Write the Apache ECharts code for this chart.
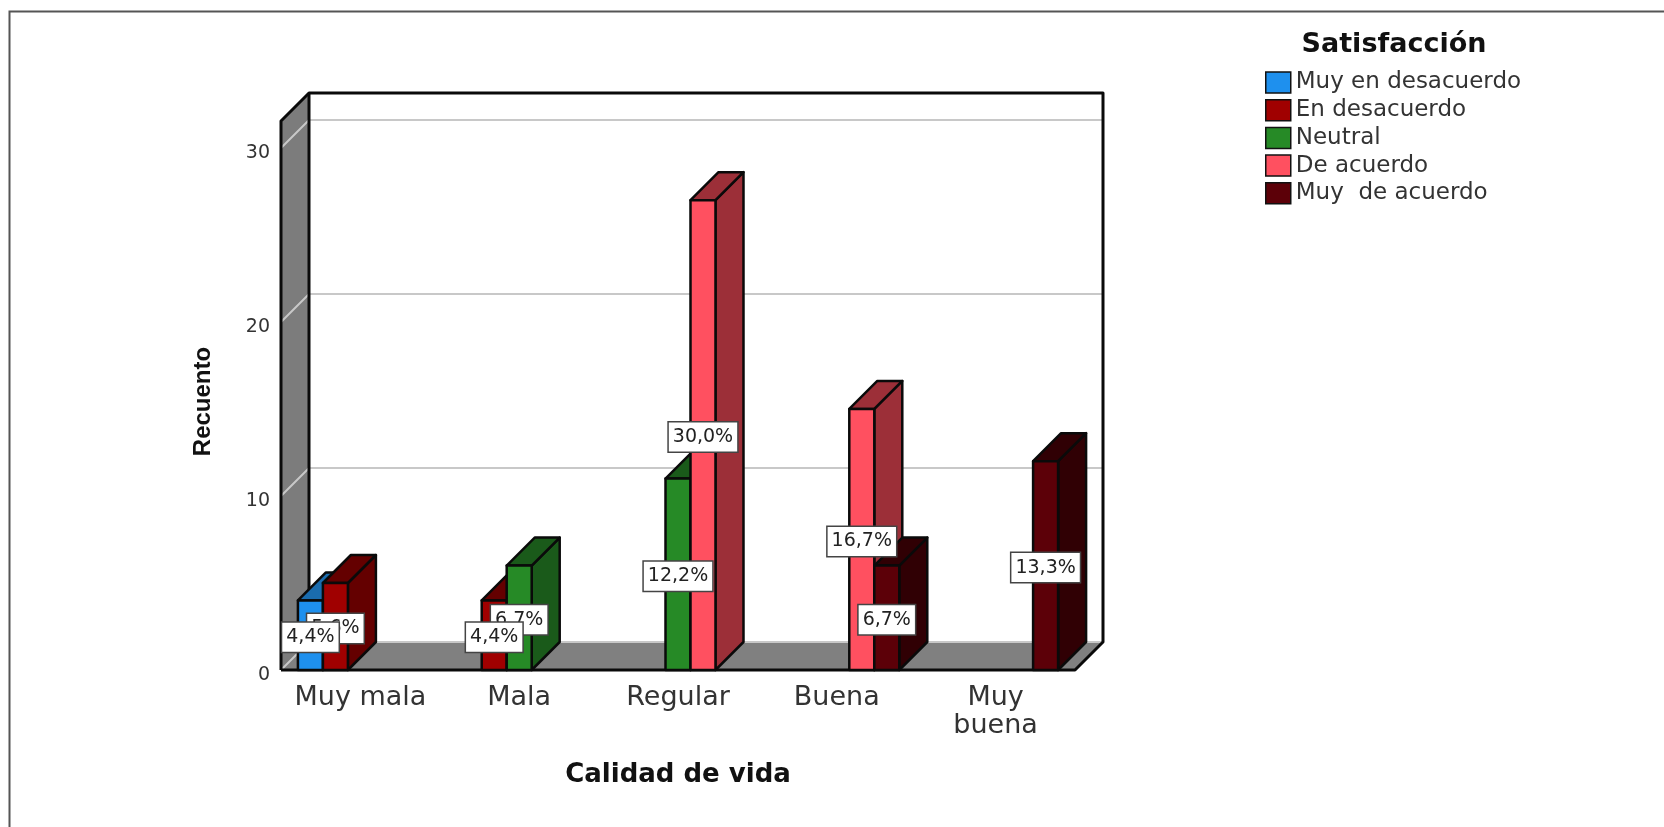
<!DOCTYPE html>
<html>
<head>
<meta charset="utf-8">
<title>Calidad de vida y satisfacción</title>
<script src="https://cdn.jsdelivr.net/npm/echarts@6/dist/echarts.min.js"></script>
<style>
html, body { margin: 0; padding: 0; background: #fff; }
#chart { width: 1664px; height: 827px; }
</style>
</head>
<body>
<div id="chart"></div>
<script>
// Recuento por calidad de vida y nivel de satisfacción
const categories = ['Muy mala', 'Mala', 'Regular', 'Buena', 'Muy\nbuena'];
const seriesNames = ['Muy en desacuerdo', 'En desacuerdo', 'Neutral', 'De acuerdo', 'Muy  de acuerdo'];
const muyEnDesacuerdo = [4, 0, 0, 0, 0];
const enDesacuerdo = [5, 4, 0, 0, 0];
const neutral = [0, 6, 11, 0, 0];
const deAcuerdo = [0, 0, 27, 15, 0];
const muyDeAcuerdo = [0, 0, 0, 6, 12];
const seriesValues = [muyEnDesacuerdo, enDesacuerdo, neutral, deAcuerdo, muyDeAcuerdo];
const yTicks = [0, 10, 20, 30];
const totalCases = 90;

const frontColors = ['#1e90ee', '#a00000', '#268a26', '#ff5060', '#5c0008'];
const sideColors = ['#1a6cae', '#640000', '#1a5a1a', '#9c2f38', '#300004'];

const DEPTH = 28;             // oblique offset of the back plane, in px
const CLUSTER_SHARE = 0.787;  // share of each category band taken by the bars
const LABEL_NUDGE = 2;        // optical centring of the percentage boxes, in px
const LINE = '#0a0a0a';
const WALL = '#7c7c7c';

const sans = '"DejaVu Sans", sans-serif';

// Back-plane point for a front-plane pixel position
const back = p => [p[0] + DEPTH, p[1] - DEPTH];

// Left wall, floor, back grid lines and back frame, positioned through the axes
function renderBox(params, api) {
  const xMin = params.coordSys.x;
  const xMax = params.coordSys.x + params.coordSys.width;
  const yBase = api.coord([0, 0])[1];
  const yTop = params.coordSys.y;
  const fl = [xMin, yBase], ft = [xMin, yTop], fr = [xMax, yBase];
  const bl = back(fl), bt = back(ft), br = back(fr), btr = back([xMax, yTop]);

  const children = [
    { type: 'polygon', shape: { points: [ft, bt, bl, fl] }, style: { fill: WALL } },
    { type: 'polygon', shape: { points: [fl, bl, br, fr] }, style: { fill: '#808080' } }
  ];
  yTicks.forEach(v => {
    const y = api.coord([0, v])[1];
    const a = [xMin, y], b = back(a), c = back([xMax, y]);
    children.push({ type: 'polyline', shape: { points: [a, b, c] }, style: { fill: null, stroke: '#c8c8c8', lineWidth: 2 } });
  });
  children.push(
    { type: 'polyline', shape: { points: [fl, ft, bt, btr, br, fr, fl] }, style: { fill: null, stroke: LINE, lineWidth: 3, lineJoin: 'round' } },
    { type: 'line', shape: { x1: bt[0], y1: bt[1], x2: bl[0], y2: bl[1] }, style: { stroke: LINE, lineWidth: 3 } }
  );
  return { type: 'group', children };
}

// Oblique bar: front face plus darker top and side faces
function renderBar(params, api) {
  const s = params.seriesIndex - 1;
  const value = api.value(1);
  if (!value) return null;
  const band = api.size([1, 0])[0];
  const w = band * CLUSTER_SHARE / seriesNames.length;
  const c = api.coord([api.value(0), 0]);
  const top = api.coord([api.value(0), value])[1];
  const x0 = c[0] - w * seriesNames.length / 2 + s * w;
  const x1 = x0 + w;
  const y0 = c[1];
  const stroke = { stroke: LINE, lineWidth: 2.5, lineJoin: 'round' };
  return {
    type: 'group',
    children: [
      { type: 'polygon', shape: { points: [[x1, top], back([x1, top]), back([x1, y0]), [x1, y0]] }, style: { fill: sideColors[s], ...stroke } },
      { type: 'polygon', shape: { points: [[x0, top], back([x0, top]), back([x1, top]), [x1, top]] }, style: { fill: sideColors[s], ...stroke } },
      { type: 'rect', shape: { x: x0, y: top, width: w, height: y0 - top }, style: { fill: frontColors[s], ...stroke } }
    ]
  };
}

// Percentage box centred on the front face of its bar
function renderLabel(params, api) {
  const s = api.value(2);
  const value = api.value(1);
  const band = api.size([1, 0])[0];
  const w = band * CLUSTER_SHARE / seriesNames.length;
  const c = api.coord([api.value(0), value / 2]);
  const pct = (value / totalCases * 100).toFixed(1).replace('.', ',') + '%';
  return {
    type: 'text',
    style: {
      text: pct,
      x: c[0] - w * seriesNames.length / 2 + (s + 0.5) * w,
      y: c[1] + LABEL_NUDGE,
      align: 'center',
      verticalAlign: 'middle',
      font: '19px ' + sans,
      fill: '#222',
      backgroundColor: '#fff',
      borderColor: '#444',
      borderWidth: 1.5,
      padding: [6, 4, 4, 4]
    }
  };
}

const barSeries = seriesNames.map((name, s) => ({
  type: 'custom',
  name,
  z: 3,
  renderItem: renderBar,
  itemStyle: { color: frontColors[s] },
  encode: { x: 0, y: 1 },
  data: seriesValues[s].map((v, i) => [i, v])
}));

// Boxes of earlier series are painted last, so they sit on top of later ones
const labelData = [];
seriesValues.forEach((vals, s) => vals.forEach((v, i) => { if (v) labelData.unshift([i, v, s]); }));

const chart = echarts.init(document.getElementById('chart'));
chart.setOption({
  animation: false,
  backgroundColor: '#fff',
  title: {
    text: 'Satisfacción',
    left: 1389,
    top: 26,
    textAlign: 'center',
    textStyle: { fontFamily: sans, fontSize: 27, fontWeight: 'bold', color: '#111' }
  },
  legend: {
    orient: 'vertical',
    left: 1260,
    top: 66,
    itemWidth: 25,
    itemHeight: 21,
    itemGap: 4.7,
    icon: 'rect',
    selectedMode: false,
    data: seriesNames,
    itemStyle: { borderColor: '#111', borderWidth: 1.5 },
    textStyle: { fontFamily: sans, fontSize: 23, lineHeight: 21, color: '#333' }
  },
  grid: { left: 281, top: 121, width: 794, height: 549 },
  xAxis: {
    type: 'category',
    data: categories,
    axisLine: { show: false },
    axisTick: { show: false },
    axisLabel: { interval: 0, margin: 14, fontFamily: sans, fontSize: 27, lineHeight: 28, color: '#333' },
    name: 'Calidad de vida',
    nameLocation: 'middle',
    nameGap: 92,
    nameTextStyle: { fontFamily: sans, fontSize: 26, fontWeight: 'bold', color: '#111' }
  },
  yAxis: {
    type: 'value',
    min: 0,
    max: 31.55,
    interval: 10,
    axisLine: { show: false },
    axisTick: { show: false },
    splitLine: { show: false },
    axisLabel: {
      margin: 11,
      showMaxLabel: false,
      formatter: '{tick|{value}}',
      rich: { tick: { fontFamily: sans, fontSize: 19, color: '#333', padding: [10, 0, 0, 0] } }
    },
    name: 'Recuento',
    nameLocation: 'middle',
    nameGap: 66,
    nameRotate: 90,
    nameTextStyle: { fontFamily: '"Liberation Sans", sans-serif', fontSize: 24, fontWeight: 'bold', color: '#111', padding: [0, 12, 0, 0] }
  },
  graphic: [
    { type: 'polyline', silent: true, z: 0, shape: { points: [[9.5, 827], [9.5, 11.5], [1664, 11.5]] }, style: { fill: null, stroke: '#555', lineWidth: 2 } }
  ],
  series: [
    { type: 'custom', name: 'plano', z: 1, renderItem: renderBox, silent: true, data: [[0, 0]], encode: { x: 0, y: 1 } },
    ...barSeries,
    { type: 'custom', name: 'etiquetas', z: 5, renderItem: renderLabel, silent: true, data: labelData, encode: { x: 0, y: 1 } }
  ]
});
</script>
</body>
</html>
